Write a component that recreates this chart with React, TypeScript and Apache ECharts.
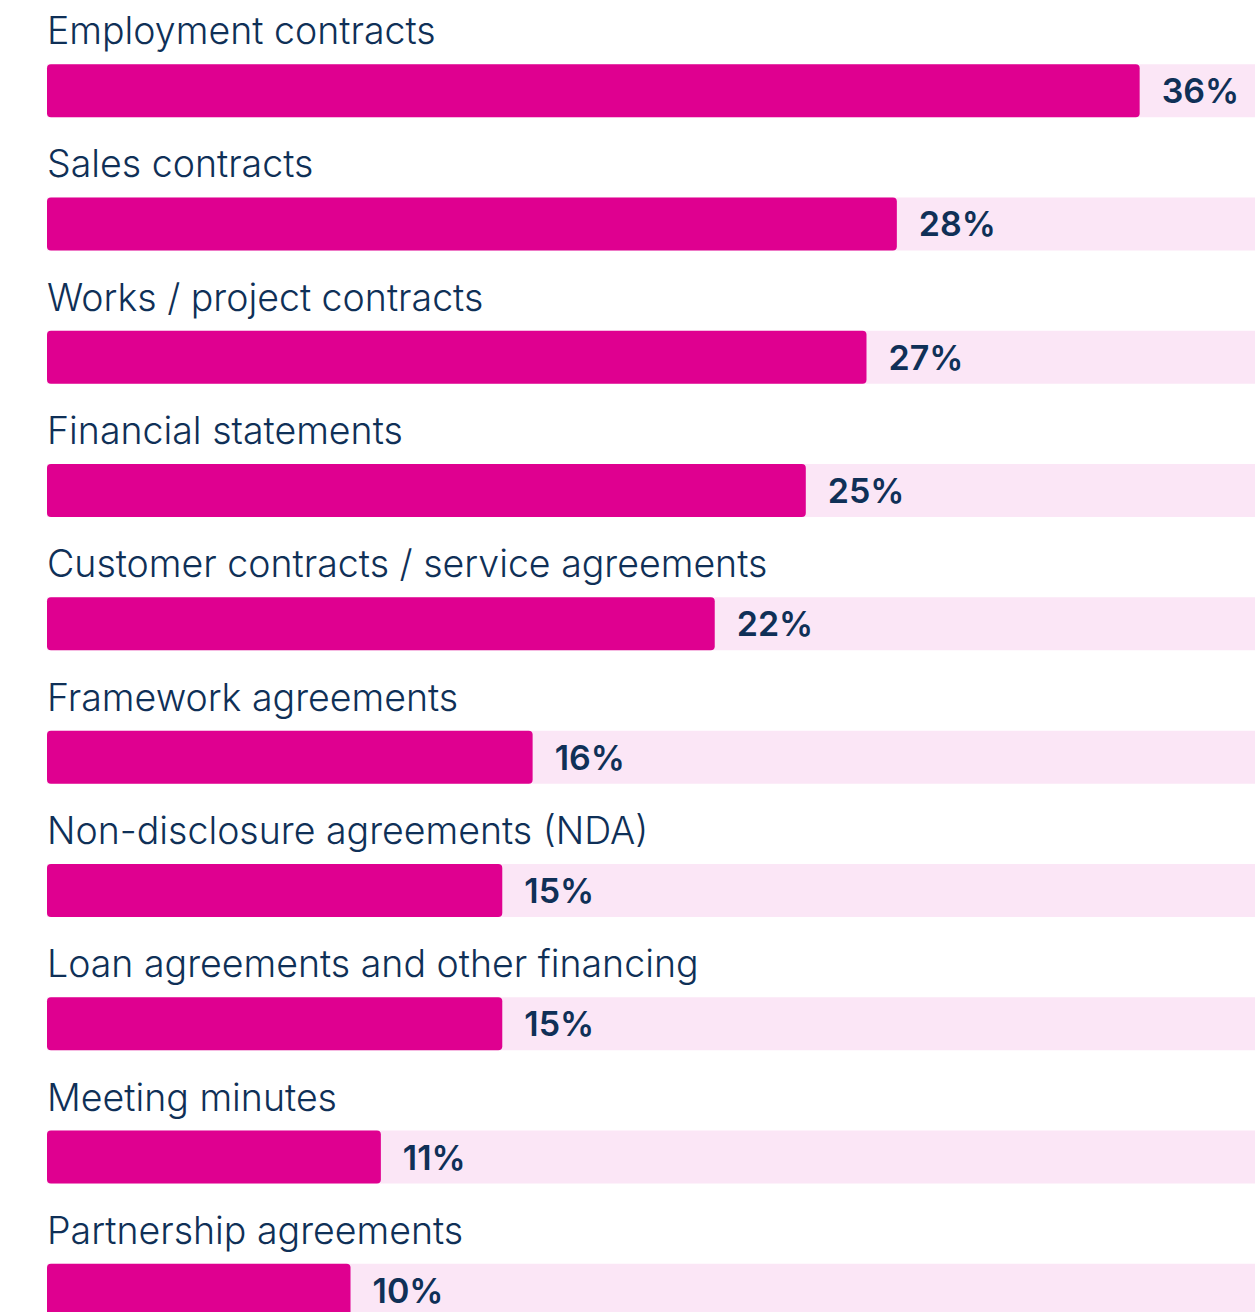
import React, { useEffect, useRef } from "react";
import * as echarts from "echarts";

const categories = [
  "Employment contracts",
  "Sales contracts",
  "Works / project contracts",
  "Financial statements",
  "Customer contracts / service agreements",
  "Framework agreements",
  "Non-disclosure agreements (NDA)",
  "Loan agreements and other financing",
  "Meeting minutes",
  "Partnership agreements",
];
const values = [36, 28, 27, 25, 22, 16, 15, 15, 11, 10];

const BAR = "#DF0090";
const BG = "#FBE6F6";
const TEXT = "#0F3057";
const FONT = "Inter, 'Noto Sans', sans-serif";

export default function App() {
  const ref = useRef<HTMLDivElement>(null);
  useEffect(() => {
    document.body.style.margin = "0";
    document.body.style.overflow = "hidden";
    const chart = echarts.init(ref.current!, undefined, { renderer: "svg" });
    chart.setOption({
      animation: false,
      grid: { left: 47, right: 0, top: 24, bottom: 0, containLabel: false },
      xAxis: {
        type: "value",
        min: 0,
        max: 39.8,
        show: false,
      },
      yAxis: {
        type: "category",
        data: categories,
        inverse: true,
        axisLine: { show: false },
        axisTick: { show: false },
        splitLine: { show: false },
        axisLabel: {
          inside: true,
          margin: 0,
          align: "left",
          verticalAlign: "bottom",
          padding: [0, 0, 41, 0],
          fontFamily: FONT,
          fontSize: 37.5,
          fontWeight: 300,
          color: TEXT,
        },
        z: 10,
      },
      series: [
        {
          type: "bar",
          data: values,
          barWidth: 53,
          showBackground: true,
          backgroundStyle: { color: BG },
          itemStyle: { color: BAR, borderRadius: 4 },
          label: {
            show: true,
            position: "right",
            distance: 22,
            formatter: "{c}%",
            fontFamily: FONT,
            fontSize: 34,
            fontWeight: 600,
            color: TEXT,
          },
        },
      ],
    });
    return () => chart.dispose();
  }, []);
  return (
    <div
      ref={ref}
      style={{ position: "absolute", left: 0, top: 0, width: 1255, height: 1357 }}
    />
  );
}
